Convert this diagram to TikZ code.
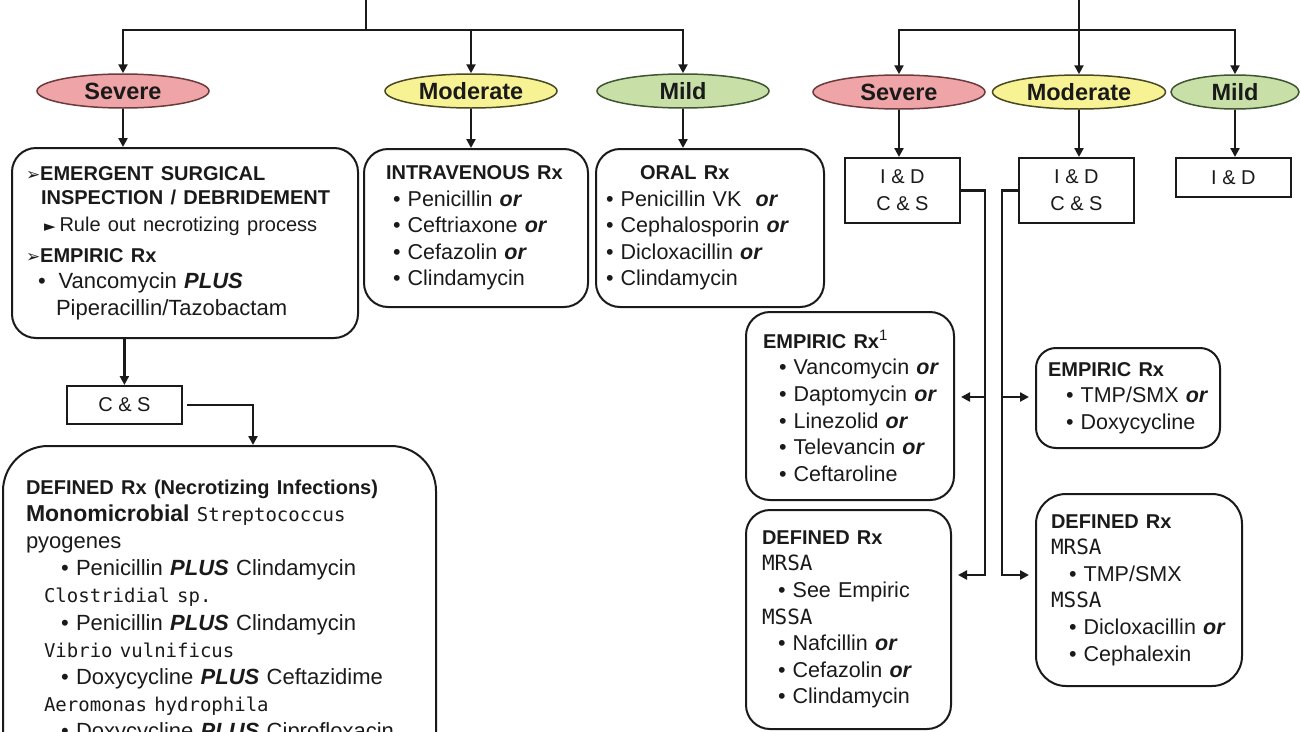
\documentclass[tikz,border=0pt]{standalone}
\usepackage{fontspec}
\setmainfont{Liberation Sans}
\newfontfamily\symfont{DejaVu Sans}
\newfontfamily\germfont{DejaVu Sans Mono}
\usepackage{xcolor}
\usetikzlibrary{shapes.geometric, arrows.meta, positioning, calc}

\definecolor{sevfill}{HTML}{EFA5A8}
\definecolor{sevdraw}{HTML}{6B3A3C}
\definecolor{modfill}{HTML}{F7F394}
\definecolor{moddraw}{HTML}{4A4820}
\definecolor{mildfill}{HTML}{C8E0A8}
\definecolor{milddraw}{HTML}{3E5530}
\definecolor{ink}{HTML}{1A1A1A}

\newcommand{\rxor}{\textbf{\textit{or}}}
\newcommand{\rxplus}{\textbf{\textit{PLUS}}}
\newcommand{\head}[1]{{\fontsize{20}{26.6}\selectfont\bfseries #1}}
\newcommand{\germ}[1]{{\germfont\fontsize{19}{27}\selectfont #1}}
\newcommand{\strain}[1]{{\germfont\fontsize{21}{27}\selectfont #1}}
\newcommand{\pointer}{{\symfont\fontsize{17}{17}\selectfont ➢}}
\newcommand{\pill}[1][7pt]{\hspace*{#1}•~}

\begin{document}
\begin{tikzpicture}[
    x=1pt, y=-1pt,
    grade/.style={ellipse, draw, line width=1.5pt, minimum width=172pt, minimum height=34pt, inner sep=0pt, text=ink, font=\fontsize{23.5}{23.5}\selectfont\bfseries},
    severe/.style={grade, fill=sevfill, draw=sevdraw},
    moderate/.style={grade, fill=modfill, draw=moddraw},
    mild/.style={grade, fill=mildfill, draw=milddraw},
    rxbox/.style={rectangle, draw=ink, rounded corners=24pt, line width=2pt, anchor=north west, align=left, inner ysep=0pt, text=ink, font=\fontsize{21.5}{26.6}\selectfont},
    tagbox/.style={rectangle, draw=ink, line width=1.8pt, anchor=north west, align=center, inner sep=0pt, text=ink, font=\fontsize{20}{27}\selectfont},
    line/.style={-{Triangle[length=9pt, width=9pt]}, line width=2.6pt, draw=ink},
    trunk/.style={line width=2.6pt, draw=ink}
]
    \useasboundingbox (0,0) rectangle (1300,731);
    \clip (0,0) rectangle (1300,731);

    % Layout: left tree
    \node[severe] (sevL) at (123,91) {Severe};
    \node[moderate] (modL) at (471,91) {Moderate};
    \node[mild] (mildL) at (683,91) {Mild};

    \node[rxbox, text width=318pt, inner xsep=14pt, minimum height=190pt, font=\fontsize{22}{26.6}\selectfont] (surg) at (11,147) {
        \pointer\head{EMERGENT SURGICAL}\\[-2pt]
        \hspace*{15pt}\head{INSPECTION / DEBRIDEMENT}\\
        \hspace*{18pt}{\symfont\fontsize{15}{15}\selectfont ►}\hspace{4pt}{\fontsize{20}{26.6}\selectfont Rule out necrotizing process}\\[4pt]
        \pointer\head{EMPIRIC Rx}\\
        \hspace*{12pt}•\hspace*{13pt}Vancomycin \rxplus\\
        \hspace*{30pt}Piperacillin/Tazobactam};
    \node[rxbox, text width=180pt, inner xsep=22pt, minimum height=158pt] (iv) at (363,148) {
        \head{INTRAVENOUS Rx}\\
        \pill Penicillin \rxor\\
        \pill Ceftriaxone \rxor\\
        \pill Cefazolin \rxor\\
        \pill Clindamycin};
    \node[rxbox, text width=208pt, inner xsep=10pt, minimum height=158pt] (oral) at (595,148) {
        \hspace*{34pt}\head{ORAL Rx}\\
        \pill[0pt]Penicillin VK\ \ \rxor\\
        \pill[0pt]Cephalosporin \rxor\\
        \pill[0pt]Dicloxacillin \rxor\\
        \pill[0pt]Clindamycin};

    \node[tagbox, minimum width=115pt, minimum height=38pt] (csL) at (66,385) {C \& S};
    \node[rxbox, rounded corners=45pt, text width=387pt, inner xsep=23pt, inner ysep=34pt, font=\fontsize{22}{27.1}\selectfont] (nec) at (2,445) {
        \head{DEFINED Rx (Necrotizing Infections)}\\
        {\fontsize{23}{27}\selectfont\textbf{Monomicrobial}} \germ{Streptococcus}\\
        pyogenes\\
        \pill[35pt]Penicillin \rxplus{} Clindamycin\\
        \hspace*{18pt}\germ{Clostridial sp.}\\
        \pill[35pt]Penicillin \rxplus{} Clindamycin\\
        \hspace*{18pt}\germ{Vibrio vulnificus}\\
        \pill[35pt]Doxycycline \rxplus{} Ceftazidime\\
        \hspace*{18pt}\germ{Aeromonas hydrophila}\\
        \pill[35pt]Doxycycline \rxplus{} Ciprofloxacin};

    % Layout: right tree
    \node[severe] (sevR) at (899,92) {Severe};
    \node[moderate, minimum width=173pt] (modR) at (1079,92) {Moderate};
    \node[mild, minimum width=128pt] (mildR) at (1235,92) {Mild};

    \node[tagbox, minimum width=115pt, minimum height=65pt] (idsR) at (844,157) {I \& D\\C \& S};
    \node[tagbox, minimum width=115pt, minimum height=65pt] (idmR) at (1018,157) {I \& D\\C \& S};
    \node[tagbox, minimum width=115pt, minimum height=39pt] (idR) at (1175,157) {I \& D};

    \node[rxbox, text width=180pt, inner xsep=14pt, minimum height=188pt] (empS) at (745,311) {
        \hspace*{3pt}\head{EMPIRIC Rx}\textsuperscript{1}\\
        \pill[19pt]Vancomycin \rxor\\
        \pill[19pt]Daptomycin \rxor\\
        \pill[19pt]Linezolid \rxor\\
        \pill[19pt]Televancin \rxor\\
        \pill[19pt]Ceftaroline};
    \node[rxbox, text width=173pt, inner xsep=16pt, minimum height=219pt] (defS) at (745,509) {
        \head{DEFINED Rx}\\
        \strain{MRSA}\\
        \pill[16pt]See Empiric\\
        \strain{MSSA}\\
        \pill[16pt]Nafcillin \rxor\\
        \pill[16pt]Cefazolin \rxor\\
        \pill[16pt]Clindamycin};
    \node[rxbox, rounded corners=20pt, text width=172pt, inner xsep=6pt, minimum height=100pt] (empM) at (1035,347) {
        \hspace*{6pt}\head{EMPIRIC Rx}\\
        \pill[24pt]TMP/SMX \rxor\\
        \pill[24pt]Doxycycline};
    \node[rxbox, rounded corners=30pt, text width=180pt, inner xsep=13pt, minimum height=192pt] (defM) at (1035,493) {
        \hspace*{2pt}\head{DEFINED Rx}\\
        \hspace*{2pt}\strain{MRSA}\\
        \pill[20pt]TMP/SMX\\
        \hspace*{2pt}\strain{MSSA}\\
        \pill[20pt]Dicloxacillin \rxor\\
        \pill[20pt]Cephalexin};

    % Arrows: left tree
    \coordinate (topL) at (366,-2);
    \coordinate (busL) at (366,30);
    \draw[trunk] (topL) -- (busL);
    \draw[line] (busL) -| (sevL.north);
    \draw[line] (busL) -| (mildL.north);
    \draw[line] (busL -| modL.north) -- (modL.north);
    \draw[line] (sevL.south) -- (sevL.south |- surg.north);
    \draw[line] (modL.south) -- (modL.south |- iv.north);
    \draw[line] (mildL.south) -- (mildL.south |- oral.north);
    \draw[line] (surg.south -| csL.north) -- (csL.north);
    \coordinate (necIn) at (253,445);
    \draw[line] ([xshift=4pt]csL.east) -| (necIn);

    % Arrows: right tree
    \coordinate (topR) at (1079,-2);
    \coordinate (busR) at (1079,30);
    \draw[line] (topR) -- (modR.north);
    \draw[line] (busR) -| (sevR.north);
    \draw[line] (busR) -| (mildR.north);
    \draw[line] (sevR.south) -- (sevR.south |- idsR.north);
    \draw[line] (modR.south) -- (modR.south |- idmR.north);
    \draw[line] (mildR.south) -- (mildR.south |- idR.north);

    \coordinate (splitS) at (985,397);
    \coordinate (splitSb) at (985,575);
    \coordinate (splitM) at (1002,397);
    \coordinate (splitMb) at (1002,575);
    \draw[line, shorten >=6pt] (idsR.east) -| (splitSb) -- (splitSb -| defS.east);
    \draw[line, shorten >=6pt] (splitS) -- (splitS -| empS.east);
    \draw[line, shorten >=6pt] (idmR.west) -| (splitMb) -- (splitMb -| defM.west);
    \draw[line, shorten >=6pt] (splitM) -- (splitM -| empM.west);
\end{tikzpicture}
\end{document}
